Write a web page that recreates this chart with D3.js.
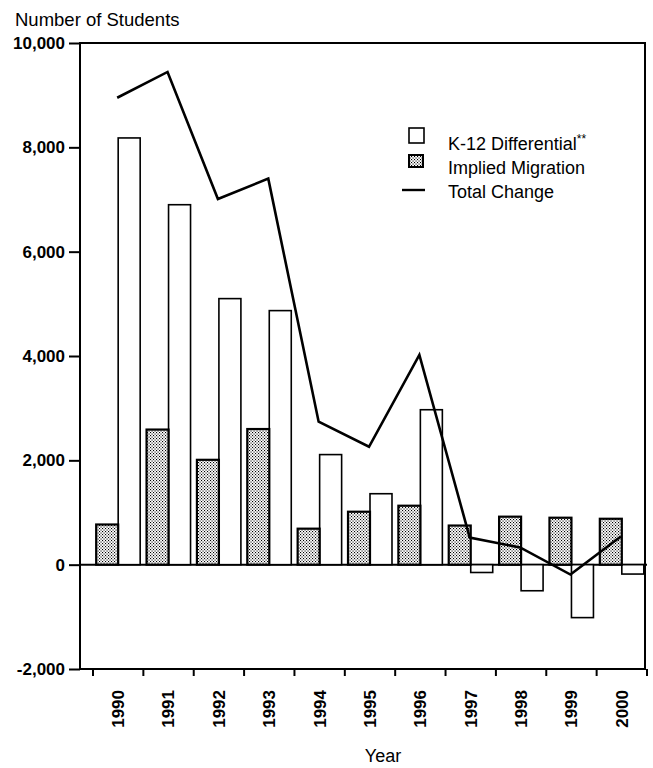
<!DOCTYPE html>
<html>
<head>
<meta charset="utf-8">
<script src="https://cdn.jsdelivr.net/npm/d3@7"></script>
<style>
  body { margin: 0; background: #fff; }
  text { font-family: "Liberation Sans", Arial, sans-serif; fill: #000; }
</style>
</head>
<body>
<svg id="chart"></svg>
<script>
const years = ["1990", "1991", "1992", "1993", "1994", "1995", "1996", "1997", "1998", "1999", "2000"];
const k12Differential = [8180, 6900, 5100, 4870, 2110, 1360, 2970, -150, -500, -1015, -180];
const impliedMigration = [770, 2590, 2010, 2600, 690, 1015, 1130, 750, 920, 900, 880];
const totalChange = [8950, 9445, 7010, 7400, 2740, 2260, 4020, 520, 330, -190, 540];
const yTicks = [-2000, 0, 2000, 4000, 6000, 8000, 10000];
const legendLabels = ["K-12 Differential", "Implied Migration", "Total Change"];

const width = 653, height = 768;
const plotLeft = 80, plotRight = 647, plotTop = 43, plotBottom = 669;

const svg = d3.select("#chart").attr("width", width).attr("height", height);

const defs = svg.append("defs");
const pat = defs.append("pattern")
    .attr("id", "dots")
    .attr("patternUnits", "userSpaceOnUse")
    .attr("width", 3).attr("height", 3);
pat.append("rect").attr("width", 3).attr("height", 3).attr("fill", "#fff");
pat.append("rect").attr("x", 0).attr("y", 0).attr("width", 1.1).attr("height", 1.1).attr("fill", "#000");
pat.append("rect").attr("x", 1.5).attr("y", 1.5).attr("width", 1.1).attr("height", 1.1).attr("fill", "#000");

const x = d3.scaleBand().domain(years).range([93, plotRight]).padding(0);
const sub = d3.scaleBand().domain(["mig", "k12"]).range([0, x.bandwidth()]).paddingOuter(0.145);
const y = d3.scaleLinear().domain([-2000, 10000]).range([plotBottom, plotTop]);

// zero line
svg.append("line")
    .attr("x1", plotLeft).attr("x2", plotRight)
    .attr("y1", y(0)).attr("y2", y(0))
    .attr("stroke", "#000").attr("stroke-width", 2);

// K-12 bars (white)
svg.append("g").selectAll("rect")
    .data(years.map((d, i) => ({ year: d, v: k12Differential[i] })))
    .enter().append("rect")
    .attr("x", d => x(d.year) + sub("k12"))
    .attr("width", sub.bandwidth())
    .attr("y", d => y(Math.max(0, d.v)))
    .attr("height", d => Math.abs(y(d.v) - y(0)))
    .attr("fill", "#fff")
    .attr("stroke", "#000")
    .attr("stroke-width", 1.6);

// migration bars (dotted)
svg.append("g").selectAll("rect")
    .data(years.map((d, i) => ({ year: d, v: impliedMigration[i] })))
    .enter().append("rect")
    .attr("x", d => x(d.year) + sub("mig"))
    .attr("width", sub.bandwidth())
    .attr("y", d => y(Math.max(0, d.v)))
    .attr("height", d => Math.abs(y(d.v) - y(0)))
    .attr("fill", "url(#dots)")
    .attr("stroke", "#000")
    .attr("stroke-width", 2.2);

// total change line
const line = d3.line()
    .x((d, i) => x(years[i]) + x.bandwidth() / 2 - 1)
    .y(d => y(d));
svg.append("path")
    .datum(totalChange)
    .attr("d", line)
    .attr("fill", "none")
    .attr("stroke", "#000")
    .attr("stroke-width", 2.6);

// frame
svg.append("rect")
    .attr("x", plotLeft).attr("y", plotTop)
    .attr("width", plotRight - 2 - plotLeft).attr("height", plotBottom - plotTop)
    .attr("fill", "none")
    .attr("stroke", "#000")
    .attr("stroke-width", 2);

// y axis
const yAxis = svg.append("g")
    .attr("transform", `translate(${plotLeft},0)`)
    .call(d3.axisLeft(y)
        .tickValues(yTicks)
        .tickSize(11)
        .tickPadding(4)
        .tickFormat(d => d3.format(",")(d).replace("\u2212", "-")));
yAxis.select(".domain").remove();
yAxis.selectAll("line").attr("stroke-width", 2);
yAxis.selectAll("text")
    .attr("font-size", 17).attr("font-weight", "bold")
    .attr("font-family", "'Liberation Sans', Arial, sans-serif")
    .attr("fill", "#000");

// x boundary ticks
const bounds = years.map(d => x(d)).concat([x.range()[1]]);
svg.append("g").selectAll("line")
    .data(bounds)
    .enter().append("line")
    .attr("x1", d => d).attr("x2", d => d)
    .attr("y1", plotBottom).attr("y2", plotBottom + 7)
    .attr("stroke", "#000").attr("stroke-width", 2);

// x labels
const xAxis = svg.append("g")
    .attr("transform", `translate(0,${plotBottom})`)
    .call(d3.axisBottom(x).tickSize(0).tickPadding(0));
xAxis.select(".domain").remove();
xAxis.selectAll("text")
    .attr("font-size", 17).attr("font-weight", "bold")
    .attr("font-family", "'Liberation Sans', Arial, sans-serif")
    .attr("fill", "#000")
    .attr("text-anchor", "end")
    .attr("transform", "rotate(-90)")
    .attr("x", -21).attr("y", 0).attr("dy", "0.35em");

// titles
svg.append("text").attr("x", 15).attr("y", 26)
    .attr("font-size", 18.5).text("Number of Students");
svg.append("text").attr("x", 383).attr("y", 762)
    .attr("text-anchor", "middle")
    .attr("font-size", 18).text("Year");

// legend
const legend = svg.append("g");
legend.append("rect")
    .attr("x", 409).attr("y", 128).attr("width", 15).attr("height", 15)
    .attr("fill", "#fff").attr("stroke", "#000").attr("stroke-width", 1.6);
legend.append("rect")
    .attr("x", 409).attr("y", 155).attr("width", 14).attr("height", 12)
    .attr("fill", "url(#dots)").attr("stroke", "#000").attr("stroke-width", 2);
legend.append("line")
    .attr("x1", 402).attr("x2", 425).attr("y1", 190).attr("y2", 190)
    .attr("stroke", "#000").attr("stroke-width", 2.4);

const lt = legend.selectAll("text.lab")
    .data(legendLabels)
    .enter().append("text")
    .attr("class", "lab")
    .attr("x", 448)
    .attr("y", (d, i) => 150 + i * 24)
    .attr("font-size", 18)
    .text(d => d);
lt.filter((d, i) => i === 0).append("tspan")
    .attr("font-size", 12).attr("dy", -7).text("**");
</script>
</body>
</html>
